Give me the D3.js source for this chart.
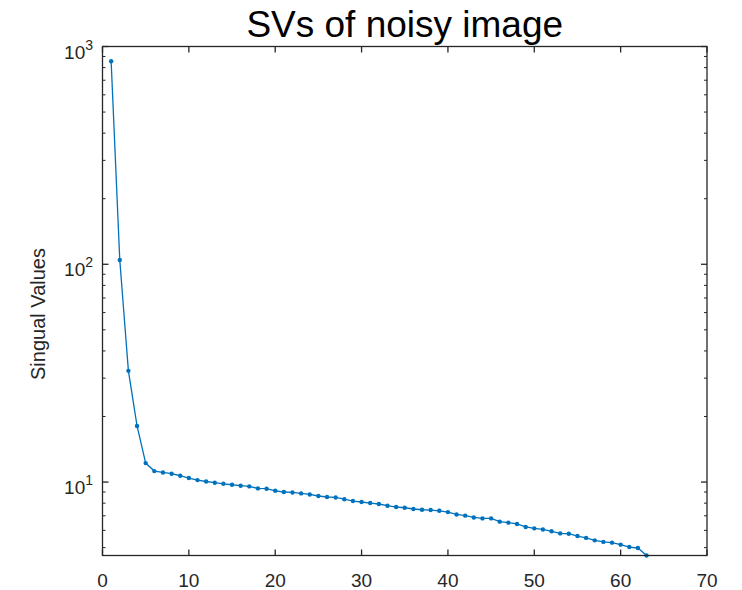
<!DOCTYPE html>
<html><head><meta charset="utf-8">
<script src="https://cdn.jsdelivr.net/npm/d3@7"></script>
<style>body{margin:0;background:#fff;} svg{display:block;}</style>
</head><body>
<script>
const titleText = "SVs of noisy image";
const yLabelText = "Singual Values";
const index = d3.range(1, 64);
const singularValues = [856, 104.6, 32.4, 18.1, 12.22, 11.23, 11.07, 10.92, 10.69, 10.43,
  10.21, 10.06, 9.93, 9.82, 9.72, 9.62, 9.55, 9.35, 9.32, 9.12,
  9.00, 8.96, 8.87, 8.77, 8.63, 8.54, 8.50, 8.34, 8.18, 8.10,
  8.01, 7.93, 7.79, 7.68, 7.62, 7.52, 7.46, 7.44, 7.38, 7.28,
  7.10, 7.01, 6.88, 6.81, 6.81, 6.58, 6.51, 6.42, 6.22, 6.13,
  6.06, 5.94, 5.81, 5.79, 5.65, 5.54, 5.40, 5.31, 5.27, 5.16,
  5.03, 4.98, 4.6];
const xTicks = [0, 10, 20, 30, 40, 50, 60, 70];
const yTicks = [10, 100, 1000];
const xDomain = [0, 70];
const yDomain = [4.6, 1000];

const W = 742, H = 590;
const L = 102.5, R = 707, T = 46.5, B = 555.5;
const axisColor = "#262626";
const lineColor = "#0072BD";
const font = "'Liberation Sans', Arial, sans-serif";

const svg = d3.select("body").append("svg").attr("width", W).attr("height", H);
const x = d3.scaleLinear().domain(xDomain).range([L, R]);
const y = d3.scaleLog().domain(yDomain).range([B, T]);

const minor = [];
[1, 10, 100].forEach(d => { for (let k = 2; k <= 9; k++) { const v = d * k; if (v >= yDomain[0] && v <= yDomain[1]) minor.push(v); } });

const g = svg.append("g");
const line = d3.line().x((d, i) => x(index[i])).y(d => y(d));
g.append("path").datum(singularValues).attr("d", line)
  .attr("fill", "none").attr("stroke", lineColor).attr("stroke-width", 1.3);
g.selectAll("circle.pt").data(singularValues).join("circle")
  .attr("cx", (d, i) => x(index[i])).attr("cy", d => y(d)).attr("r", 2.2)
  .attr("fill", lineColor);

const ax = svg.append("g").attr("stroke", axisColor).attr("stroke-width", 1.3).attr("fill", "none");
ax.append("rect").attr("x", L).attr("y", T).attr("width", R - L).attr("height", B - T);
xTicks.forEach(t => {
  ax.append("line").attr("x1", x(t)).attr("x2", x(t)).attr("y1", B).attr("y2", B - 6);
  ax.append("line").attr("x1", x(t)).attr("x2", x(t)).attr("y1", T).attr("y2", T + 6);
});
yTicks.forEach(t => {
  ax.append("line").attr("x1", L).attr("x2", L + 6).attr("y1", y(t)).attr("y2", y(t));
  ax.append("line").attr("x1", R).attr("x2", R - 6).attr("y1", y(t)).attr("y2", y(t));
});
minor.forEach(t => {
  ax.append("line").attr("x1", L).attr("x2", L + 3).attr("y1", y(t)).attr("y2", y(t)).attr("stroke-width", 1);
  ax.append("line").attr("x1", R).attr("x2", R - 3).attr("y1", y(t)).attr("y2", y(t)).attr("stroke-width", 1);
});

svg.selectAll("text.xt").data(xTicks).join("text")
  .attr("x", d => x(d)).attr("y", 587).attr("text-anchor", "middle")
  .attr("font-family", font).attr("font-size", 19).attr("fill", axisColor)
  .text(d => d);
yTicks.forEach(t => {
  const txt = svg.append("text").attr("x", 93).attr("y", y(t) + 12).attr("text-anchor", "end")
    .attr("font-family", font).attr("font-size", 19).attr("fill", axisColor);
  txt.append("tspan").text("10");
  txt.append("tspan").attr("font-size", 14).attr("dy", -9).text(Math.round(Math.log10(t)));
});
svg.append("text").attr("transform", "translate(45,314) rotate(-90)")
  .attr("text-anchor", "middle").attr("font-family", font).attr("font-size", 20)
  .attr("fill", axisColor).text(yLabelText);
svg.append("text").attr("x", (L + R) / 2).attr("y", 37).attr("text-anchor", "middle")
  .attr("font-family", font).attr("font-size", 37).attr("fill", "#000").text(titleText);
</script>
</body></html>
